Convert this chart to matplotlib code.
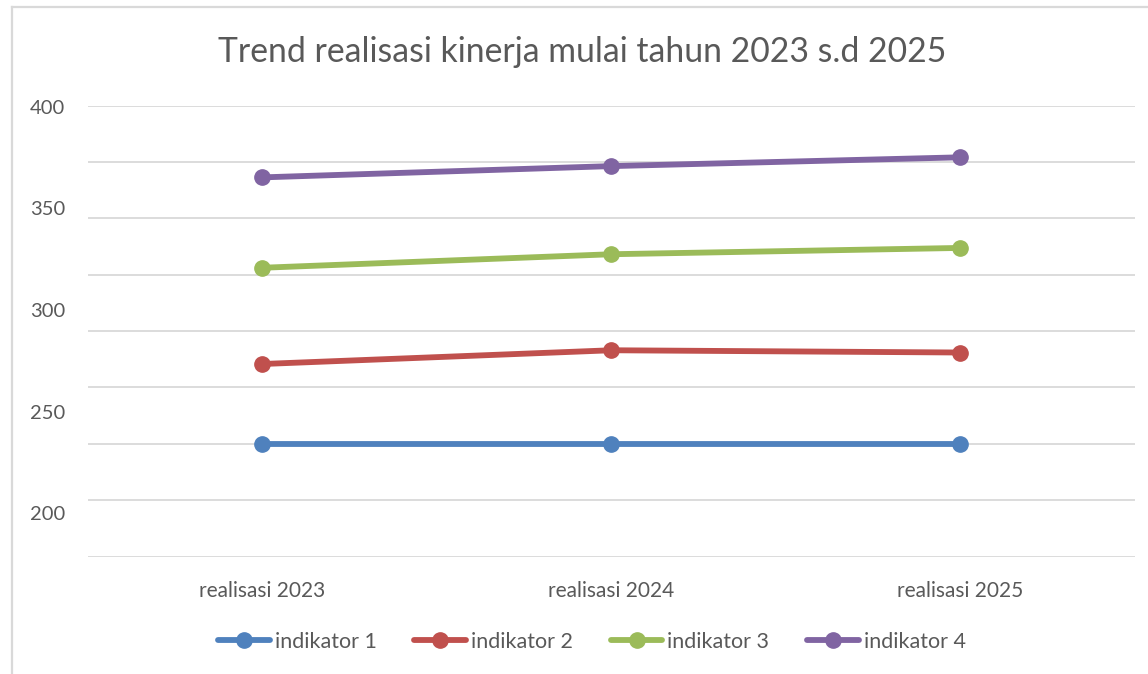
import matplotlib
matplotlib.use("Agg")
import matplotlib.pyplot as plt
from matplotlib.lines import Line2D

plt.rcParams['font.family'] = ['Lato', 'DejaVu Sans']

categories = ["realisasi 2023", "realisasi 2024", "realisasi 2025"]
series_names = ["indikator 1", "indikator 2", "indikator 3", "indikator 4"]
indikator_1 = [250, 250, 250]
indikator_2 = [285.4, 291.5, 290.5]
indikator_3 = [328.1, 334.1, 336.9]
indikator_4 = [368.2, 373.2, 377.1]
series = [indikator_1, indikator_2, indikator_3, indikator_4]
y_labels = [200, 250, 300, 350, 400]
colors = ["#4F81BD", "#C0504D", "#9BBB59", "#8064A2"]

W, H = 1148, 674
fig = plt.figure(figsize=(W / 100, H / 100), dpi=100)

# chart border (left and top visible)
fig.add_artist(Line2D([12 / W, 12 / W], [0, 1 - 7 / H], color="#d9d9d9", lw=1.6))
fig.add_artist(Line2D([12 / W, 1], [1 - 7 / H, 1 - 7 / H], color="#d9d9d9", lw=1.6))

left, right = 88 / W, 1134.5 / W
top, bottom = 1 - 105.7 / H, 1 - 556.5 / H
rect = [left, bottom, right - left, top - bottom]
ax = fig.add_axes(rect)
ax.set_xlim(-0.5, len(categories) - 0.5)
ax.set_ylim(200, 400)
ax.set_yticks(range(200, 401, 25))
ax.yaxis.grid(True, color="#d9d9d9", lw=1.3)
ax.set_axisbelow(True)
for s in ax.spines.values():
    s.set_visible(False)
ax.tick_params(axis="y", length=0, labelleft=False)
ax.set_xticks(range(len(categories)))
ax.set_xticklabels(categories, fontsize=15, color="#595959")
ax.tick_params(axis="x", length=0, pad=17.5)

x = list(range(len(categories)))
for name, vals, c in zip(series_names, series, colors):
    ax.plot(x, vals, color=c, lw=4.2, marker="o", markersize=11, label=name,
            solid_capstyle="round", zorder=3)

# value axis labels (as rendered in the reference)
ax2 = fig.add_axes(rect, facecolor="none")
ax2.set_ylim(178.75, 400.5)
ax2.set_yticks(y_labels)
ax2.tick_params(axis="y", length=0, labelsize=14.5, labelcolor="#595959", pad=16.5)
for s in ax2.spines.values():
    s.set_visible(False)
ax2.set_xticks([])

fig.text(582 / W, 1 - 52 / H, "Trend realisasi kinerja mulai tahun 2023 s.d 2025",
         ha="center", va="center", fontsize=24.3, color="#595959")

handles, labels = ax.get_legend_handles_labels()
fig.legend(handles, labels, loc="center", bbox_to_anchor=(592 / W, 1 - 642 / H),
           ncol=4, frameon=False, fontsize=15.5, labelcolor="#595959",
           handlelength=2.4, handletextpad=0.23, columnspacing=1.76, numpoints=1)

fig.savefig("out.png", dpi=100, facecolor="white")
